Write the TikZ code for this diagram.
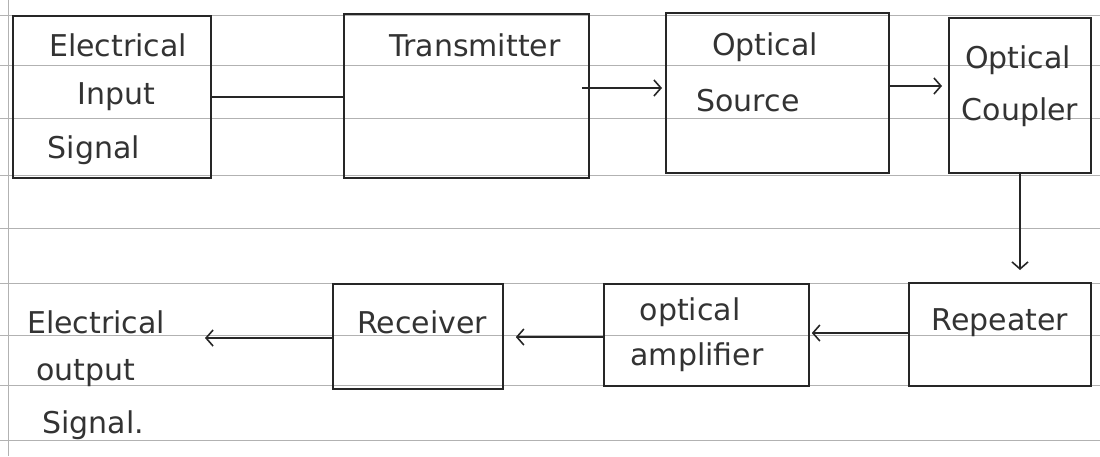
\documentclass[tikz,border=0pt]{standalone}
\usepackage{fontspec}
\setmainfont{DejaVu Sans}
\usetikzlibrary{arrows.meta}
\begin{document}
\begin{tikzpicture}[x=1pt,y=-1pt,
  paper/.style={draw=black!30, line width=0.8pt},
  blk/.style={draw=black!85, line width=1.8pt},
  lbl/.style={inner sep=0pt, font=\fontsize{30}{34}\selectfont, text=black!80},
  conn/.style={draw=black!85, line width=1.6pt},
  arr/.style={conn, -{Straight Barb[length=7pt,width=16pt,line width=1.6pt]}}]
\useasboundingbox (0,0) rectangle (1100,456);
% lined paper
\foreach \yy in {15,65,118,175,228,283,335,385,440}
  \draw[paper] (0,\yy) -- (1100,\yy);
\draw[paper] (8,0) -- (8,456);
% boxes
\node[blk, minimum width=198pt, minimum height=162pt, anchor=north west] (ein) at (12,15) {};
\node[blk, minimum width=245pt, minimum height=164pt, anchor=north west] (tx) at (343,13) {};
\node[blk, minimum width=223pt, minimum height=160pt, anchor=north west] (src) at (665,12) {};
\node[blk, minimum width=142pt, minimum height=155pt, anchor=north west] (cpl) at (948,17) {};
\node[blk, minimum width=182pt, minimum height=103pt, anchor=north west] (rep) at (908,282) {};
\node[blk, minimum width=205pt, minimum height=102pt, anchor=north west] (amp) at (603,283) {};
\node[blk, minimum width=170pt, minimum height=105pt, anchor=north west] (rx) at (332,283) {};
% texts
\node[lbl] (t1a) at (118,45) {Electrical};
\node[lbl] (t1b) at (116,97) {Input};
\node[lbl] (t1c) at (94,150) {Signal};
\node[lbl] (t2) at (475,45) {Transmitter};
\node[lbl] (t3a) at (765,47) {Optical};
\node[lbl] (t3b) at (748,101) {Source};
\node[lbl] (t4a) at (1018,60) {Optical};
\node[lbl] (t4b) at (1020,112) {Coupler};
\node[lbl] (t5) at (1000,323) {Repeater};
\node[lbl] (t6a) at (690,312) {optical};
\node[lbl] (t6b) at (697,357) {amplifier};
\node[lbl] (t7) at (422,322) {Receiver};
\node[lbl] (t8a) at (96,322) {Electrical};
\node[lbl] (t8b) at (86,373) {output};
\node[lbl] (t8c) at (93,425) {Signal.};
% connectors
\coordinate (outend) at (205,338);
\coordinate (cplbot) at (1020,270);
\draw[conn] (ein.east |- 0,97) -- (tx.west |- 0,97);
\draw[arr] ([xshift=-8pt]tx.east |- 0,88) -- ([xshift=-3pt]src.west |- 0,88);
\draw[arr] (src.east |- 0,86) -- ([xshift=-6pt]cpl.west |- 0,86);
\draw[arr] (cpl.south -| 1020,0) -- (cplbot);
\draw[arr] (rep.west |- 0,333) -- ([xshift=2pt]amp.east |- 0,333);
\draw[arr] (amp.west |- 0,337) -- ([xshift=12pt]rx.east |- 0,337);
\draw[arr] (rx.west |- 0,338) -- (outend);
\end{tikzpicture}
\end{document}
